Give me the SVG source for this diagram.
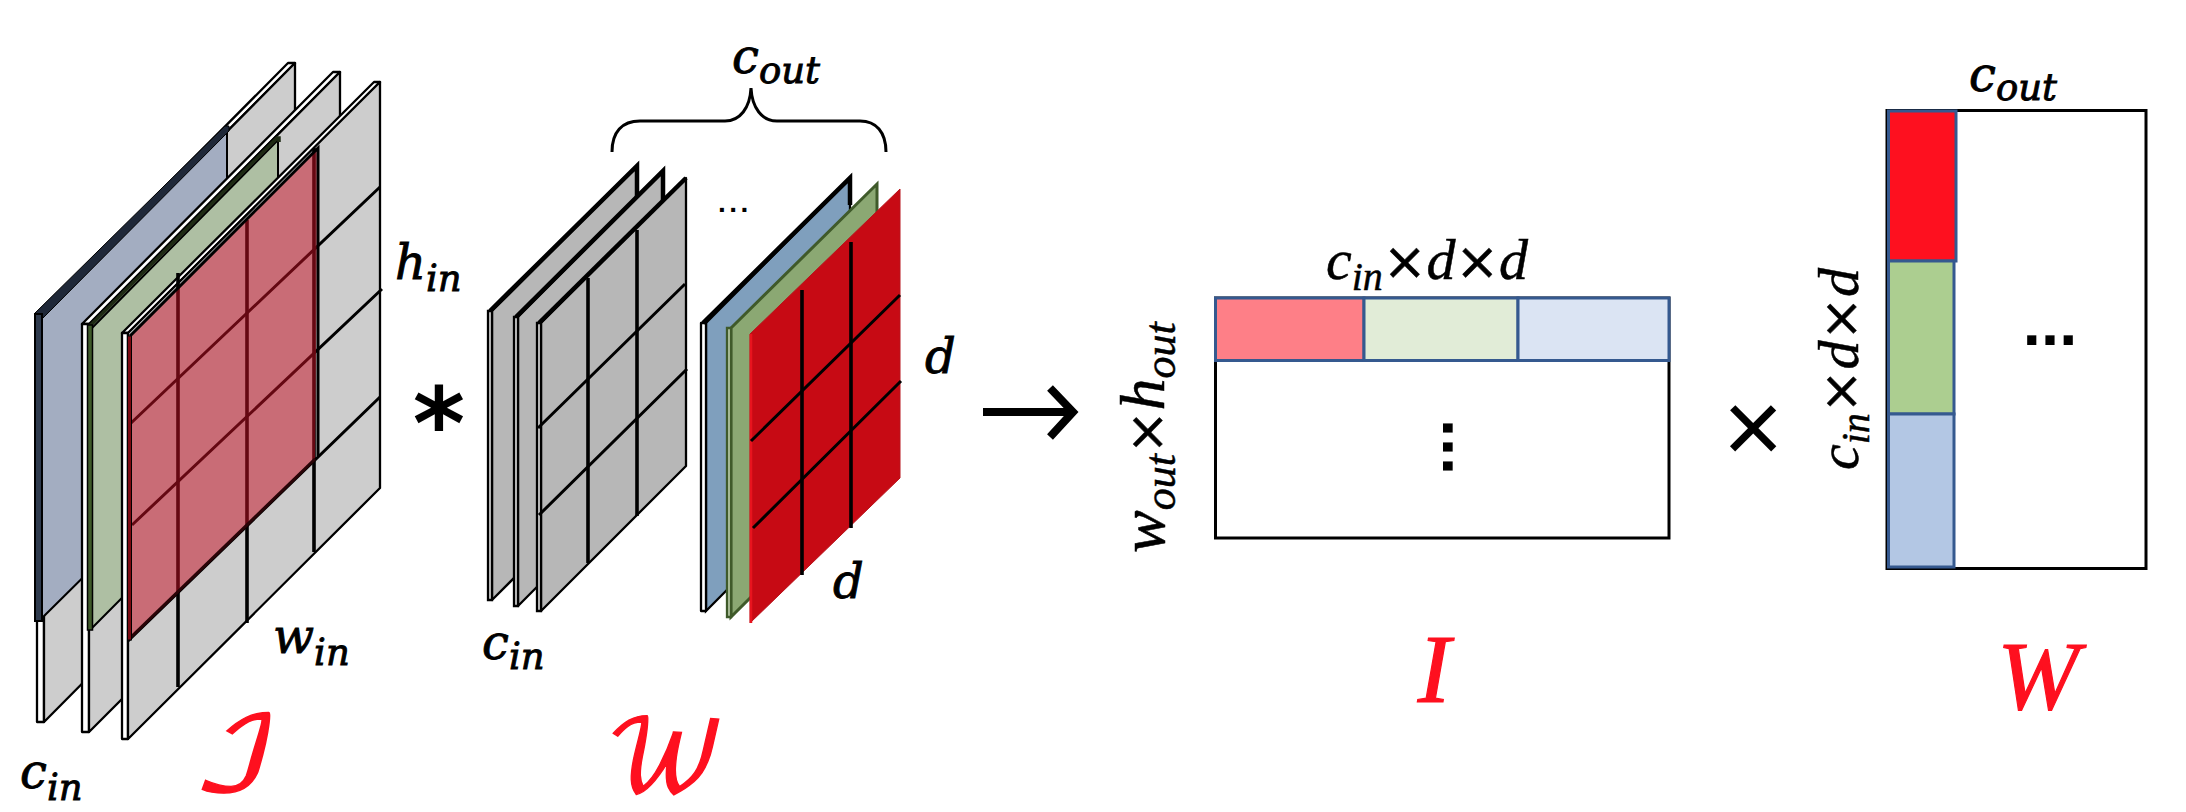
<svg xmlns="http://www.w3.org/2000/svg" width="2186" height="812" viewBox="0 0 2186 812">
<style>
.m{font-family:"DejaVu Serif","Liberation Serif",serif;font-style:italic;font-size:48px;fill:#000;stroke:#000;stroke-width:.9}
.s{font-size:37px}
.c{font-family:"Liberation Serif",serif;font-style:italic;font-size:58px;fill:#000;stroke:#000;stroke-width:.5}
.cs{font-size:40px}
.x{font-style:normal;font-family:"DejaVu Sans",sans-serif;font-size:52px}
.big{font-size:64px}
.bigs{font-size:44px}
.red{fill:#fe101f;stroke:#fe101f;stroke-width:1.2}
.g1{fill:#cdcdcd;stroke:#000;stroke-width:2.3;stroke-linejoin:round}
.g2{fill:#b7b7b7;stroke:#000;stroke-width:2.3;stroke-linejoin:round}
.w{fill:#fff;stroke:#000;stroke-width:2.3;stroke-linejoin:round}
.sl{fill:#d4d4d4;stroke:#000;stroke-width:2.3}
.ln{stroke:#000;stroke-width:3;fill:none}
.ln2{stroke:#000;stroke-width:3.6;fill:none}
.top{stroke:#000;stroke-width:4.5;fill:none}
.cell{stroke:#35598f;stroke-width:3}
.dots{font-family:"Liberation Sans",sans-serif;font-weight:bold;font-size:65px;letter-spacing:.2px;fill:#000}
</style>
<g id="input-tensor">
<polygon class="w" points="37,316 44,316 295,63 288,63"/>
<polygon class="w" points="37,316 44,316 44,722 37,722"/>
<polygon class="g1" points="44,316 295,63 295,469 44,722"/>
<polygon points="42,316 227,130 227,435 42,618" fill="#a3adc1" stroke="#000" stroke-width="2"/>
<polygon points="34,314 225,126 229,126 229,131 43,318 42,314" fill="#1f2838" stroke="#000" stroke-width="1"/>
<rect x="35" y="314" width="7" height="307" fill="#2e3a4d" stroke="#000" stroke-width="2"/>
<polygon class="w" points="82,324 89,324 340,72 333,72"/>
<polygon class="w" points="82,324 89,324 89,732 82,732"/>
<polygon class="g1" points="89,325 340,72 340,481 89,732"/>
<polygon points="92,328 278,140 278,441 92,628" fill="#aebfa3" stroke="#000" stroke-width="2"/>
<path d="M90,326L277,138H279V142" fill="none" stroke="#1e2a14" stroke-width="3.500"/>
<rect x="87.500" y="325" width="5" height="305" fill="#3f5a2a" stroke="#000" stroke-width="1.500"/>
<polygon class="w" points="122,333 128,333 380,82 374,82"/>
<polygon class="w" points="122,333 128,333 128,739 122,739"/>
<polygon class="g1" points="128,333 380,82 380,488 128,739"/>
<path class="ln" d="M130,424L380,187M132,525L382,289M128,641L380,397"/>
<path class="ln2" d="M178,273V687M247,220V623M314,148V552"/>
<polygon points="131,336 318,148 315,458 131,636" fill="#c61024" fill-opacity=".51"/>
<path d="M130,336L318,148V456" fill="none" stroke="#000" stroke-width="3"/>
<path d="M131,637L315,459" fill="none" stroke="#2a0407" stroke-width="3"/>
<rect x="127.500" y="336" width="4" height="304" fill="#7a0a12" stroke="#000" stroke-width="1"/>
</g>
<g id="filter-tensor">
<polygon class="g2" points="492,311 637,166 637,455 492,600"/>
<polygon class="sl" points="488,311 492,311 492,600 488,600"/>
<path class="top" d="M490,311L637,166V200"/>
<polygon class="g2" points="518,317 663,171 663,460 518,606"/>
<polygon class="sl" points="514,317 518,317 518,606 514,606"/>
<path class="top" d="M516,317L663,171V205"/>
<polygon class="g2" points="541,323 686,178 686,466 541,611"/>
<polygon class="sl" points="537,323 541,323 541,611 537,611"/>
<path class="top" d="M539,323L686,178"/>
<path class="ln" d="M538,428L685,284M539,515L687,369"/>
<path class="ln2" d="M588,278V563M637,230V516"/>
<polygon points="706,323 850,178 850,466 706,611" fill="#7f9fbd" stroke="#000" stroke-width="2.300"/>
<polygon class="w" points="701,323 706,323 706,611 701,611"/>
<path class="top" d="M703,323L850,178V205"/>
<polygon points="731,328 877,184 877,472 731,617" fill="#8ba873" stroke="#3f5a2a" stroke-width="3"/>
<polygon points="727,328 731,328 731,617 727,617" fill="#b8c9a6" stroke="#3f5a2a" stroke-width="2.300"/>
<polygon points="750,334 900,189 900,478 750,623" fill="#c70a14" stroke="#b8141c" stroke-width="1"/>
<path d="M751,334V623" stroke="#e8141e" stroke-width="2.500"/>
<path class="ln" d="M751,441L900,295M753,528L901,381"/>
<path class="ln2" d="M802,290V575M851,242V528"/>
<text class="dots" x="718" y="212" style="font-size:28px;letter-spacing:3.500px">...</text>
</g>
<g id="matrix-i">
<rect x="1215.500" y="298" width="453.500" height="240" fill="#fff" stroke="#000" stroke-width="3"/>
<rect class="cell" x="1215.500" y="298" width="148.500" height="62.500" fill="#fe7f87"/>
<rect class="cell" x="1364" y="298" width="154" height="62.500" fill="#e1ecd7"/>
<rect class="cell" x="1518" y="298" width="151" height="62.500" fill="#dbe4f3"/>
<text class="dots" transform="translate(1442.500,419) rotate(90)" style="letter-spacing:1px">...</text>
</g>
<g id="matrix-w">
<rect x="1887" y="110.500" width="259" height="458" fill="#fff" stroke="#000" stroke-width="3"/>
<rect class="cell" x="1888.500" y="111" width="67.500" height="150" fill="#fe101f"/>
<rect class="cell" x="1888.500" y="261" width="65.500" height="153" fill="#acce90"/>
<rect class="cell" x="1888.500" y="414" width="65.500" height="153" fill="#b3c7e4"/>
<text class="dots" x="2022.700" y="345">...</text>
</g>
<g id="connectors">
<path d="M612,152C612,132 622,121 640,121L725,121C740,121 750,108 751,88C752,108 762,121 777,121L860,121C876,121 886,132 886,152" fill="none" stroke="#000" stroke-width="3"/>
<path d="M983,412H1072M1050,388L1073,412L1050,437" fill="none" stroke="#000" stroke-width="8"/>
</g>
<g id="labels">
<text class="m" x="395" y="279">h<tspan class="s" dy="12">in</tspan></text>
<text class="m" x="273" y="653">w<tspan class="s" dy="12">in</tspan></text>
<text class="m" x="20" y="788">c<tspan class="s" dy="12">in</tspan></text>
<text class="m" x="482" y="659">c<tspan class="s" dy="10">in</tspan></text>
<text class="m" x="732" y="73">c<tspan class="s" dy="10">out</tspan></text>
<text class="m" x="925" y="373">d</text>
<text class="m" x="833" y="598">d</text>
<text class="m" x="1969" y="91">c<tspan class="s" dy="9">out</tspan></text>
<text x="439" y="459" style="font-family:'DejaVu Sans',sans-serif;font-size:100px;font-weight:bold;text-anchor:middle">*</text>
<text x="1753" y="463" style="font-family:'Liberation Sans',sans-serif;font-size:104px;text-anchor:middle">×</text>
<text class="red" text-anchor="middle" transform="translate(236,790) scale(1.3,1.1)" style="font-family:'DejaVu Math TeX Gyre','DejaVu Sans',serif;font-size:92px">ℐ</text>
<text class="red" text-anchor="middle" transform="translate(666,790) scale(1.1,1.1)" style="font-family:'DejaVu Math TeX Gyre','DejaVu Sans',serif;font-size:88px">𝒲</text>
<text class="c" x="1326" y="279">c<tspan class="cs" dy="11">in</tspan><tspan class="x" dy="-11">×</tspan>d<tspan class="x">×</tspan>d</text>
<text class="c" transform="translate(1858,470) rotate(-90)">c<tspan class="cs" dy="11">in</tspan><tspan class="x" dy="-11">×</tspan>d<tspan class="x">×</tspan>d</text>
<text class="c big" transform="translate(1164,553) rotate(-90)">w<tspan class="bigs" dy="11">out</tspan><tspan class="x" dy="-11">×</tspan>h<tspan class="bigs" dy="11">out</tspan></text>
<text class="red" x="1434" y="702" text-anchor="middle" style="font-family:'Liberation Serif',serif;font-style:italic;font-size:98px">I</text>
<text class="red" x="2038" y="709" text-anchor="middle" style="font-family:'Liberation Serif',serif;font-style:italic;font-size:98px">W</text>
</g>
</svg>
